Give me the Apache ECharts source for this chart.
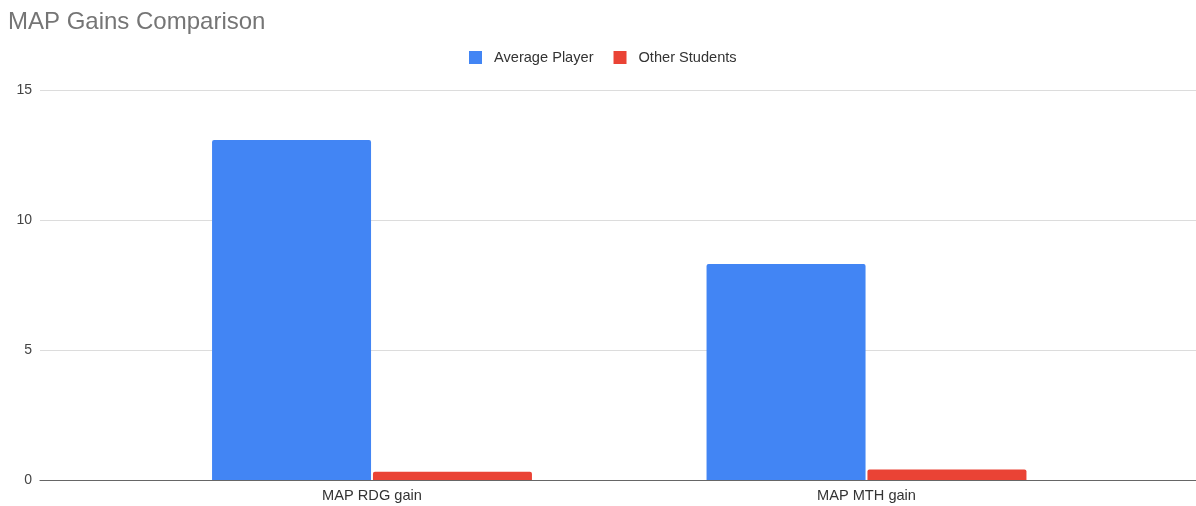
<!DOCTYPE html>
<html>
<head>
<meta charset="utf-8">
<script src="https://cdn.jsdelivr.net/npm/echarts@6/dist/echarts.min.js"></script>
<style>html,body{margin:0;padding:0;background:#fff}#c{width:1196px;height:506px}</style>
</head>
<body>
<div id="c"></div>
<script>
const categories = ['MAP RDG gain', 'MAP MTH gain'];
const averagePlayer = [13.08, 8.31];
const otherStudents = [0.32, 0.40];
const seriesNames = ['Average Player', 'Other Students'];

const chart = echarts.init(document.getElementById('c'), null, {renderer: 'canvas'});
const font = '"Liberation Sans", Arial, sans-serif';
chart.setOption({
  animation: false,
  title: {
    text: 'MAP Gains Comparison',
    left: 3, top: 5,
    textStyle: {color: '#757575', fontSize: 24, fontWeight: 'normal', fontFamily: font}
  },
  legend: {
    left: 464, top: 45,
    itemWidth: 13, itemHeight: 13, itemGap: 20,
    icon: 'rect',
    data: seriesNames,
    textStyle: {color: '#333', fontSize: 14.6, fontFamily: font, padding: [0, 0, 0, 7]}
  },
  grid: [
    {left: 40, right: 0, top: 90, bottom: 26},
    {left: 124.75, right: 82.25, top: 90, bottom: 26}
  ],
  xAxis: [
    {gridIndex: 0, type: 'category', data: [''], axisLine: {show: true, lineStyle: {color: '#666', width: 1.2}},
     axisTick: {show: false}, axisLabel: {show: false}},
    {gridIndex: 1, type: 'category', data: categories, axisLine: {show: false}, axisTick: {show: false},
     axisLabel: {color: '#333', fontSize: 14.6, fontFamily: font, margin: 8}}
  ],
  yAxis: [
    {gridIndex: 0, type: 'value', min: 0, max: 15, interval: 5,
     axisLine: {show: false}, axisTick: {show: false},
     splitLine: {lineStyle: {color: '#dcdcdc', width: 1}},
     axisLabel: {color: '#444', fontSize: 14, fontFamily: font, margin: 8}},
    {gridIndex: 1, type: 'value', min: 0, max: 15, interval: 5, show: false,
     splitLine: {show: false}}
  ],
  series: [
    {name: seriesNames[0], type: 'bar', xAxisIndex: 1, yAxisIndex: 1, data: averagePlayer,
     barWidth: 159, barGap: '1.2%', itemStyle: {color: '#4285F4', borderRadius: [2, 2, 0, 0]}},
    {name: seriesNames[1], type: 'bar', xAxisIndex: 1, yAxisIndex: 1, data: otherStudents,
     barWidth: 159, barGap: '1.2%', itemStyle: {color: '#EA4335', borderRadius: [2, 2, 0, 0]}}
  ]
});
</script>
</body>
</html>
